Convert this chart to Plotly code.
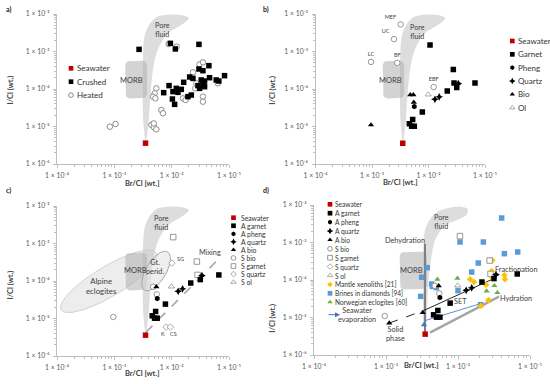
import numpy as np
import plotly.graph_objects as go

W, H = 550, 384
FONT = "Lato"
TXT = "#404040"
AXC = "#bfbfbf"

# ---------------- data ----------------
seawater_x = [3.5e-3]
seawater_y = [3.6e-6]

# panel a
crushed_x = [2.70e-3, 9.5e-3, 0.0116, 0.0299, 0.0446, 0.0299, 0.0351, 0.0458, 0.0206, 0.0235,
             0.0836, 0.0599, 0.0665, 0.0328, 0.0375, 0.0351, 0.0287, 0.0375, 0.0307, 0.0162,
             9.0e-3, 0.01205, 0.01472, 0.01054, 0.01288, 7.26e-3, 0.0192, 0.022, 0.0103, 0.01127]
crushed_y = [1.14e-3, 1.65e-3, 1.17e-3, 1.55e-3, 4.19e-4, 3.41e-4, 3.08e-4, 2.0e-4, 2.09e-4, 1.92e-4,
             2.27e-4, 1.74e-4, 1.63e-4, 1.74e-4, 1.63e-4, 1.33e-4, 1.23e-4, 1.15e-4, 1.04e-4, 1.51e-4,
             1.23e-4, 1.04e-4, 9.8e-5, 8.5e-5, 8.15e-5, 7.98e-5, 6.25e-5, 6.9e-5, 5.41e-5, 3.9e-5]
heated_x = [8.87e-3, 0.01222, 0.0307, 0.0351, 0.0235, 0.0269, 0.0258, 0.064, 5.41e-3, 5.06e-3,
            4.73e-3, 5.2e-3, 6.61e-3, 7.06e-3, 4.43e-3, 4.93e-3, 5.41e-3, 4.87e-3, 8.36e-4, 1.05e-3,
            0.01574, 0.0175, 0.0351, 0.0351]
heated_y = [1.58e-3, 1.35e-3, 4.55e-4, 5.14e-4, 2.78e-4, 1.42e-4, 1.04e-4, 1.42e-4, 1.04e-4, 7.66e-5,
            6.25e-5, 5.64e-5, 2.75e-5, 2.25e-5, 1.1e-5, 9.5e-6, 8.4e-6, 1.21e-5, 9.9e-6, 1.17e-5,
            5.64e-5, 5.09e-5, 6.25e-5, 4.59e-5]

# Alpine (A) and S samples (panels b, c, d)
a_garnet_x = [0.0316, 0.0215, 0.0665, 7.78e-3, 5.25e-3, 4.58e-3, 5.03e-3, 5.61e-3]
a_garnet_y = [1.09e-4, 8.84e-5, 1.45e-4, 2.42e-5, 1.54e-5, 1.18e-5, 1.02e-5, 1.02e-5]
s_garnet_x = [0.01064, 0.0275, 0.0283]
s_garnet_y = [1.48e-3, 3.3e-4, 1.45e-4]
a_pheng_x = [5.6e-3]
a_pheng_y = [3.4e-5]
a_quartz_x = [0.0130, 0.0155, 0.0337]
a_quartz_y = [5.3e-5, 6.2e-5, 1.39e-4]
a_bio_x = [5.4e-3]
a_bio_y = [7.0e-5]
s_bio_x = [9.6e-4, 4.75e-3, 5.5e-3]
s_bio_y = [1.1e-5, 7.0e-5, 4.4e-5]
s_quartz_x = [0.0101, 8.0e-3, 9.5e-3]
s_quartz_y = [3.0e-4, 5.9e-6, 5.9e-6]
s_quartz_names = ["SG", "K", "CS"]
s_ol_x = [9.9e-3]
s_ol_y = [7.1e-5]

# reference compositions (panel b)
ref_names = ["MEF", "UC", "LC", "BF", "EBF"]
ref_x = [3.21e-3, 2.45e-3, 9.6e-4, 2.8e-3, 0.01233]
ref_y = [5.28e-3, 2.14e-3, 5.28e-4, 4.97e-4, 1.13e-4]

# literature data (panel d)
mantle_x = [0.030, 0.0294, 0.0147, 0.01667, 0.0245, 0.0441, 0.045, 0.030, 0.0208, 0.0264]
mantle_y = [3.34e-4, 1.74e-4, 1.04e-4, 8.85e-5, 7.52e-5, 1.33e-4, 1.04e-4, 1.13e-4, 2.07e-5, 2.87e-5]
brines_x = [0.0404, 0.01067, 0.0225, 0.0441, 0.0675, 0.0191, 0.0155, 0.01, 3.75e-3, 3.13e-3,
            3.03e-3, 4.3e-3, 4.4e-3, 5.0e-3, 0.0206]
brines_y = [4.5e-3, 1.03e-3, 1.03e-3, 5.04e-4, 5.58e-4, 2.84e-4, 1.63e-4, 5.2e-5, 2.13e-4, 1.18e-4,
            3.66e-5, 7.8e-5, 6.78e-5, 6.25e-5, 2.2e-5]
norw_x = [5.17e-3, 9.8e-3, 0.025, 0.032, 0.0352, 0.027]
norw_y = [1.04e-4, 1.11e-4, 5.09e-5, 7.06e-5, 4.59e-5, 2.93e-5]

# process lines (panels c, d)
mixing_x = [3.59e-3, 0.0628]
mixing_y = [4.36e-6, 3.56e-4]
dehyd_x = [3.48e-3, 3.48e-3]
dehyd_y = [9.3e-4, 3.7e-6]
solid_dash_x = [1.11e-3, 3.3e-3]
solid_dash_y = [7.1e-6, 1.52e-5]
solid_line_x = [3.3e-3, 0.0327]
solid_line_y = [1.52e-5, 1.13e-4]
solid_tri_x = [1.11e-3, 3.23e-3]
solid_tri_y = [7.1e-6, 1.35e-5]
evap_x = [3.45e-3, 0.0213]
evap_y = [8.2e-6, 2.39e-5]
evap_tri_x = [3.37e-3]
evap_tri_y = [6.4e-6]
hydr_x = [4.08e-3, 0.0371]
hydr_y = [3.94e-6, 3.6e-5]

# fields (outlines)
pore_x = [3.49e-3, 3.19e-3, 3.13e-3, 3.19e-3, 3.39e-3, 4.14e-3, 5.48e-3, 7.55e-3, 1.13e-2, 1.62e-2,
          1.98e-2, 1.82e-2, 1.38e-2, 9.2e-3, 7.0e-3, 5.7e-3, 4.86e-3, 4.32e-3, 3.98e-3, 3.67e-3]
pore_y = [3.56e-6, 1.49e-5, 1.74e-4, 1.1e-3, 2.75e-3, 5.41e-3, 8.3e-3, 9.4e-3, 9.7e-3, 9.1e-3,
          7.8e-3, 6.5e-3, 4.79e-3, 3.31e-3, 2.04e-3, 1.1e-3, 4.37e-4, 9.3e-5, 1.48e-5, 4.9e-6]
pore_d_x = [3.56e-3, 3.30e-3, 3.30e-3, 3.30e-3, 3.37e-3, 3.67e-3, 4.31e-3, 5.33e-3, 7.35e-3, 0.01067,
            0.01361, 0.01318, 0.01067, 8.17e-3, 6.25e-3, 5.33e-3, 4.69e-3, 4.31e-3, 3.95e-3, 3.75e-3, 3.63e-3]
pore_d_y = [3.56e-6, 6.18e-6, 1.33e-4, 8.39e-4, 1.55e-3, 2.87e-3, 4.79e-3, 6.78e-3, 8.32e-3, 9.04e-3,
            7.98e-3, 5.52e-3, 4.33e-3, 3.52e-3, 2.59e-3, 1.72e-3, 1.03e-3, 4.55e-4, 1.33e-4, 2.59e-5, 6.18e-6]
morb_x = [1.55e-3, 3.7e-3]
morb_y = [5.6e-5, 5.7e-4]
alpine_center = (7.96e-4, 9.8e-5)
gtperid_center = (5.35e-3, 1.85e-4)

x_ticks = [1e-4, 1e-3, 1e-2, 1e-1]
x_ticktext = ["1 × 10⁻⁴", "1 × 10⁻³", "1 × 10⁻²", "1 × 10⁻¹"]
y_ticks = [1e-6, 1e-5, 1e-4, 1e-3, 1e-2]
y_ticktext = ["1 × 10⁻⁶", "1 × 10⁻⁵", "1 × 10⁻⁴", "1 × 10⁻³", "1 × 10⁻²"]

# ---------------- geometry ----------------
panels = {
    'a': dict(xa='x', ya='y', xd=(57, 229), yd=(14, 164)),
    'b': dict(xa='x2', ya='y2', xd=(315.5, 485), yd=(14, 164)),
    'c': dict(xa='x3', ya='y3', xd=(57, 229), yd=(206, 356)),
    'd': dict(xa='x4', ya='y4', xd=(314, 530), yd=(205, 355)),
}

fig = go.Figure()

STY = {
    'seawater': dict(symbol='square', size=5.5, color='#C00000', line=dict(width=0)),
    'blacksq': dict(symbol='square', size=5.5, color='black', line=dict(width=0)),
    'heated': dict(symbol='circle', size=5.5, color='white', line=dict(color='#808080', width=0.9)),
    'pheng': dict(symbol='hexagon', size=5.5, color='black', line=dict(width=0)),
    'quartz': dict(symbol='star-diamond', size=5.5, color='black', line=dict(width=0)),
    'bio': dict(symbol='triangle-up', size=5.5, color='black', line=dict(width=0)),
    's_bio': dict(symbol='circle', size=5.5, color='white', line=dict(color='#8c8c8c', width=0.9)),
    's_garnet': dict(symbol='square', size=5.5, color='white', line=dict(color='#8c8c8c', width=0.9)),
    's_quartz': dict(symbol='diamond', size=5, color='white', line=dict(color='#a0a0a0', width=0.9)),
    's_ol': dict(symbol='triangle-up', size=5.5, color='white', line=dict(color='#a0a0a0', width=0.9)),
    'mantle': dict(symbol='diamond', size=5, color='#FFC000', line=dict(width=0)),
    'brines': dict(symbol='square', size=5.5, color='#5B9BD5', line=dict(width=0)),
    'norw': dict(symbol='triangle-up', size=5.5, color='#70AD47', line=dict(width=0)),
}


def pts(p, x, y, sty, name=None, **kw):
    fig.add_trace(go.Scatter(x=x, y=y, mode='markers', marker=STY[sty], name=name,
                             xaxis=panels[p]['xa'], yaxis=panels[p]['ya'],
                             showlegend=False, **kw))


def line(p, x, y, color, width, dash='solid'):
    fig.add_trace(go.Scatter(x=x, y=y, mode='lines', line=dict(color=color, width=width, dash=dash),
                             xaxis=panels[p]['xa'], yaxis=panels[p]['ya'], showlegend=False,
                             hoverinfo='skip'))


def region(p, x, y, fill, lcolor='rgba(0,0,0,0)', lw=0, spline=True):
    fig.add_trace(go.Scatter(x=x, y=y, mode='lines', fill='toself', fillcolor=fill,
                             line=dict(color=lcolor, width=lw, shape='spline' if spline else 'linear',
                                       smoothing=0.8),
                             xaxis=panels[p]['xa'], yaxis=panels[p]['ya'], showlegend=False,
                             hoverinfo='skip'))


def kx(p):
    return (panels[p]['xd'][1] - panels[p]['xd'][0]) / 3.0


def ky(p):
    return (panels[p]['yd'][1] - panels[p]['yd'][0]) / 4.0


def rounded_rect(p, xs, ys, r=5):
    lx0, lx1 = np.log10(xs)
    ly0, ly1 = np.log10(ys)
    rx, ry = r / kx(p), r / ky(p)
    cs = [(lx1 - rx, ly1 - ry, 0), (lx0 + rx, ly1 - ry, 90), (lx0 + rx, ly0 + ry, 180), (lx1 - rx, ly0 + ry, 270)]
    X, Y = [], []
    for cx, cy, a0 in cs:
        t = np.radians(np.linspace(a0, a0 + 90, 7))
        X += list(cx + rx * np.cos(t))
        Y += list(cy + ry * np.sin(t))
    X.append(X[0]); Y.append(Y[0])
    return 10 ** np.array(X), 10 ** np.array(Y)


def ellipse(p, center, a, b, ang):
    t = np.linspace(0, 2 * np.pi, 80)
    th = np.radians(ang)
    dx = a * np.cos(t) * np.cos(th) - b * np.sin(t) * np.sin(th)
    dy = a * np.cos(t) * np.sin(th) + b * np.sin(t) * np.cos(th)
    return (10 ** (np.log10(center[0]) + dx / kx(p)), 10 ** (np.log10(center[1]) + dy / ky(p)))


PORE = 'rgba(200,200,200,0.62)'
MORB = 'rgba(175,175,175,0.55)'

# ---- panel a ----
region('a', pore_x, pore_y, PORE)
mx, my = rounded_rect('a', morb_x, morb_y)
region('a', mx, my, MORB, spline=False)
pts('a', heated_x, heated_y, 'heated', 'Heated')
pts('a', crushed_x, crushed_y, 'blacksq', 'Crushed')
pts('a', seawater_x, seawater_y, 'seawater', 'Seawater')

# ---- panel b ----
region('b', pore_x, pore_y, PORE)
mx, my = rounded_rect('b', morb_x, morb_y)
region('b', mx, my, MORB, spline=False)
fig.add_trace(go.Scatter(x=ref_x, y=ref_y, mode='markers+text', text=ref_names,
                         textposition=['top left', 'top left', 'top center', 'top center', 'top center'],
                         textfont=dict(size=5.5, color=TXT, family=FONT),
                         marker=STY['s_bio'], xaxis='x2', yaxis='y2', showlegend=False))
pts('b', s_garnet_x + a_garnet_x, s_garnet_y + a_garnet_y, 'blacksq', 'Garnet')
pts('b', a_pheng_x, a_pheng_y, 'pheng', 'Pheng')
pts('b', a_quartz_x, a_quartz_y, 'quartz', 'Quartz')
pts('b', a_bio_x + s_bio_x, a_bio_y + s_bio_y, 'bio', 'Bio')
pts('b', s_ol_x, s_ol_y, 's_ol', 'Ol')
pts('b', seawater_x, seawater_y, 'seawater', 'Seawater')

# ---- panel c ----
ex, ey = ellipse('c', alpine_center, 55.3, 15, 31)
region('c', ex, ey, 'rgba(215,215,215,0.45)', '#c8c8c8', 0.8, spline=False)
region('c', pore_x, pore_y, PORE)
mx, my = rounded_rect('c', morb_x, morb_y)
region('c', mx, my, MORB, spline=False)
ex, ey = ellipse('c', gtperid_center, 22.3, 10, 58.7)
region('c', ex, ey, 'rgba(225,225,225,0.55)', '#a6a6a6', 1, spline=False)
line('c', mixing_x, mixing_y, '#a6a6a6', 1.6, 'dash')
pts('c', s_bio_x, s_bio_y, 's_bio', 'S bio')
pts('c', s_garnet_x, s_garnet_y, 's_garnet', 'S garnet')
pts('c', s_quartz_x, s_quartz_y, 's_quartz', 'S quartz')
pts('c', s_ol_x, s_ol_y, 's_ol', 'S ol')
pts('c', a_garnet_x, a_garnet_y, 'blacksq', 'A garnet')
pts('c', a_pheng_x, a_pheng_y, 'pheng', 'A pheng')
pts('c', a_quartz_x, a_quartz_y, 'quartz', 'A quartz')
pts('c', a_bio_x, a_bio_y, 'bio', 'A bio')
pts('c', seawater_x, seawater_y, 'seawater', 'Seawater')

# ---- panel d ----
region('d', pore_d_x, pore_d_y, PORE)
mx, my = rounded_rect('d', morb_x, morb_y)
region('d', mx, my, MORB, spline=False)
line('d', hydr_x, hydr_y, '#a6a6a6', 2.5)
line('d', dehyd_x, dehyd_y, '#808080', 2)
line('d', solid_dash_x, solid_dash_y, '#262626', 1, 'dash')
line('d', solid_line_x, solid_line_y, '#262626', 1)
line('d', evap_x, evap_y, '#5B8FD5', 1)
pts('d', brines_x, brines_y, 'brines', 'Brines in diamonds [94]')
pts('d', norw_x, norw_y, 'norw', 'Norwegian eclogites [60]')
pts('d', mantle_x, mantle_y, 'mantle', 'Mantle xenoliths [21]')
pts('d', s_bio_x, s_bio_y, 's_bio', 'S bio')
pts('d', s_garnet_x, s_garnet_y, 's_garnet', 'S garnet')
pts('d', s_ol_x, s_ol_y, 's_ol', 'S ol')
pts('d', a_garnet_x, a_garnet_y, 'blacksq', 'A garnet')
pts('d', a_pheng_x, a_pheng_y, 'pheng', 'A pheng')
pts('d', a_quartz_x, a_quartz_y, 'quartz', 'A quartz')
pts('d', a_bio_x, a_bio_y, 'bio', 'A bio')
pts('d', solid_tri_x, solid_tri_y, 'bio')
fig.add_trace(go.Scatter(x=evap_tri_x, y=evap_tri_y, mode='markers',
                         marker=dict(symbol='triangle-up', size=5.5, color='#4472C4'),
                         xaxis='x4', yaxis='y4', showlegend=False))
pts('d', seawater_x, seawater_y, 'seawater', 'Seawater')

# ---------------- legends (drawn in a pixel overlay) ----------------
annotations = []


def legend(items, mx_, tx, y0, dy, fs):
    for i, (name, sty) in enumerate(items):
        yy = y0 + i * dy
        m = dict(STY[sty])
        m['size'] = m['size'] * 0.85
        fig.add_trace(go.Scatter(x=[mx_], y=[yy], mode='markers', marker=m, xaxis='x5', yaxis='y5',
                                 showlegend=False, hoverinfo='skip'))
        annotations.append(dict(x=tx, y=yy, xref='x5', yref='y5', text=name, showarrow=False,
                                xanchor='left', yanchor='middle',
                                font=dict(size=fs, color='#333333', family=FONT)))


legend([('Seawater', 'seawater'), ('Crushed', 'blacksq'), ('Heated', 'heated')], 71, 74.5, 68.3, 13.4, 8)
legend([('Seawater', 'seawater'), ('Garnet', 'blacksq'), ('Pheng', 'pheng'), ('Quartz', 'quartz'),
        ('Bio', 'bio'), ('Ol', 's_ol')], 512.3, 515.5, 41, 13.35, 8)
legend([('Seawater', 'seawater'), ('A garnet', 'blacksq'), ('A pheng', 'pheng'), ('A quartz', 'quartz'),
        ('A bio', 'bio'), ('S bio', 's_bio'), ('S garnet', 's_garnet'), ('S quartz', 's_quartz'),
        ('S ol', 's_ol')], 233.5, 239, 217.7, 8.05, 6.8)
legend([('Seawater', 'seawater'), ('A garnet', 'blacksq'), ('A pheng', 'pheng'), ('A quartz', 'quartz'),
        ('A bio', 'bio'), ('S bio', 's_bio'), ('S garnet', 's_garnet'), ('S quartz', 's_quartz'),
        ('S ol', 's_ol'), ('Mantle xenoliths [21]', 'mantle'), ('Brines in diamonds [94]', 'brines'),
        ('Norwegian eclogites [60]', 'norw')], 330, 333, 204.3, 8.9, 6.6)

# ---------------- text labels ----------------
def lab(x, y, text, fs=7.5, bold=False, color=TXT, angle=0, anchor='center'):
    annotations.append(dict(x=x, y=y, xref='x5', yref='y5', text=f"<b>{text}</b>" if bold else text,
                            showarrow=False, xanchor=anchor, yanchor='middle', textangle=angle,
                            font=dict(size=fs, color=color, family=FONT)))


for t, (x, y) in zip(['a)', 'b)', 'c)', 'd)'], [(8, 9), (266, 9), (8, 190), (266, 190)]):
    lab(x, y, t, 7, True, '#222222')

for (x, y) in [(142, 183.3), (400, 182), (142, 373.7), (421.7, 365)]:
    lab(x, y, 'Br/Cl [wt.]', 7.5, True)
for (x, y) in [(9.5, 90), (271.7, 90), (9.5, 285), (271.7, 318)]:
    lab(x, y, 'I/Cl (wt.)', 7.5, True, angle=-90)

for (x, y) in [(131.7, 80), (390, 80), (135, 270.3), (411, 270.3)]:
    lab(x, y, 'MORB', 7.5)
for (x, y) in [(162.7, 30), (417.7, 31.5), (161.5, 222.5), (441, 221.7)]:
    lab(x, y, 'Pore<br>fluid', 7.2)
lab(101, 285.7, 'Alpine<br>eclogites', 7.8)
lab(155, 267, 'Gt.<br>perid.', 7.3)
lab(210, 252, 'Mixing', 7.3)
lab(180, 258.7, 'SG', 5.5)
lab(163.3, 334.3, 'K', 5.5)
lab(173.7, 334.3, 'CS', 5.5)
lab(405, 240.3, 'Dehydration', 7.3)
lab(395, 333.7, 'Solid<br>phase', 7.3)
lab(460.7, 301.3, 'SET', 7.3)
lab(516, 298.7, 'Hydration', 7.3)
lab(516, 269.3, 'Fractionation', 7.3)
lab(357, 315, 'Seawater<br>evaporation', 7.3)
annotations.append(dict(x=340, y=314.7, ax=327, ay=314.7, xref='x5', yref='y5', axref='x5', ayref='y5',
                        showarrow=True, arrowhead=2, arrowsize=1, arrowwidth=1, arrowcolor='#4472C4',
                        text=''))

# ---------------- axes ----------------
minor_x = [m * 10.0 ** e for e in range(-4, -1) for m in range(2, 10)]
minor_y = [m * 10.0 ** e for e in range(-6, -2) for m in range(2, 10)]

layout_axes = {}
for i, (k, p) in enumerate(panels.items()):
    sfx = '' if i == 0 else str(i + 1)
    common = dict(type='log', showline=True, linecolor=AXC, linewidth=1, ticks='outside', ticklen=3,
                  tickcolor=AXC, showgrid=False, zeroline=False, fixedrange=True,
                  tickfont=dict(size=6.8, color='#595959', family=FONT), ticklabelstandoff=2)
    layout_axes['xaxis' + sfx] = dict(common, domain=[p['xd'][0] / W, p['xd'][1] / W], range=[-4, -1],
                                      tickvals=x_ticks, ticktext=x_ticktext, anchor='y' + sfx,
                                      minor=dict(tickvals=minor_x, ticks='outside', ticklen=2,
                                                 tickcolor=AXC, showgrid=False))
    layout_axes['yaxis' + sfx] = dict(common, domain=[1 - p['yd'][1] / H, 1 - p['yd'][0] / H], range=[-6, -2],
                                      tickvals=y_ticks, ticktext=y_ticktext, anchor='x' + sfx,
                                      minor=dict(tickvals=minor_y, ticks='outside', ticklen=2,
                                                 tickcolor=AXC, showgrid=False))

layout_axes['xaxis5'] = dict(domain=[0, 1], range=[0, W], visible=False, fixedrange=True, anchor='y5')
layout_axes['yaxis5'] = dict(domain=[0, 1], range=[H, 0], visible=False, fixedrange=True, anchor='x5')

fig.update_layout(
    template='none', width=W, height=H, margin=dict(l=0, r=0, t=0, b=0, pad=0),
    paper_bgcolor='white', plot_bgcolor='rgba(0,0,0,0)', showlegend=False,
    font=dict(family=FONT, color=TXT), annotations=annotations, **layout_axes,
)

# the page body has a default 8px margin; remove it so the 550x384 figure fills the window
fig.write_html("out.html", config={'displayModeBar': False},
               post_script="document.body.style.margin='0';")
